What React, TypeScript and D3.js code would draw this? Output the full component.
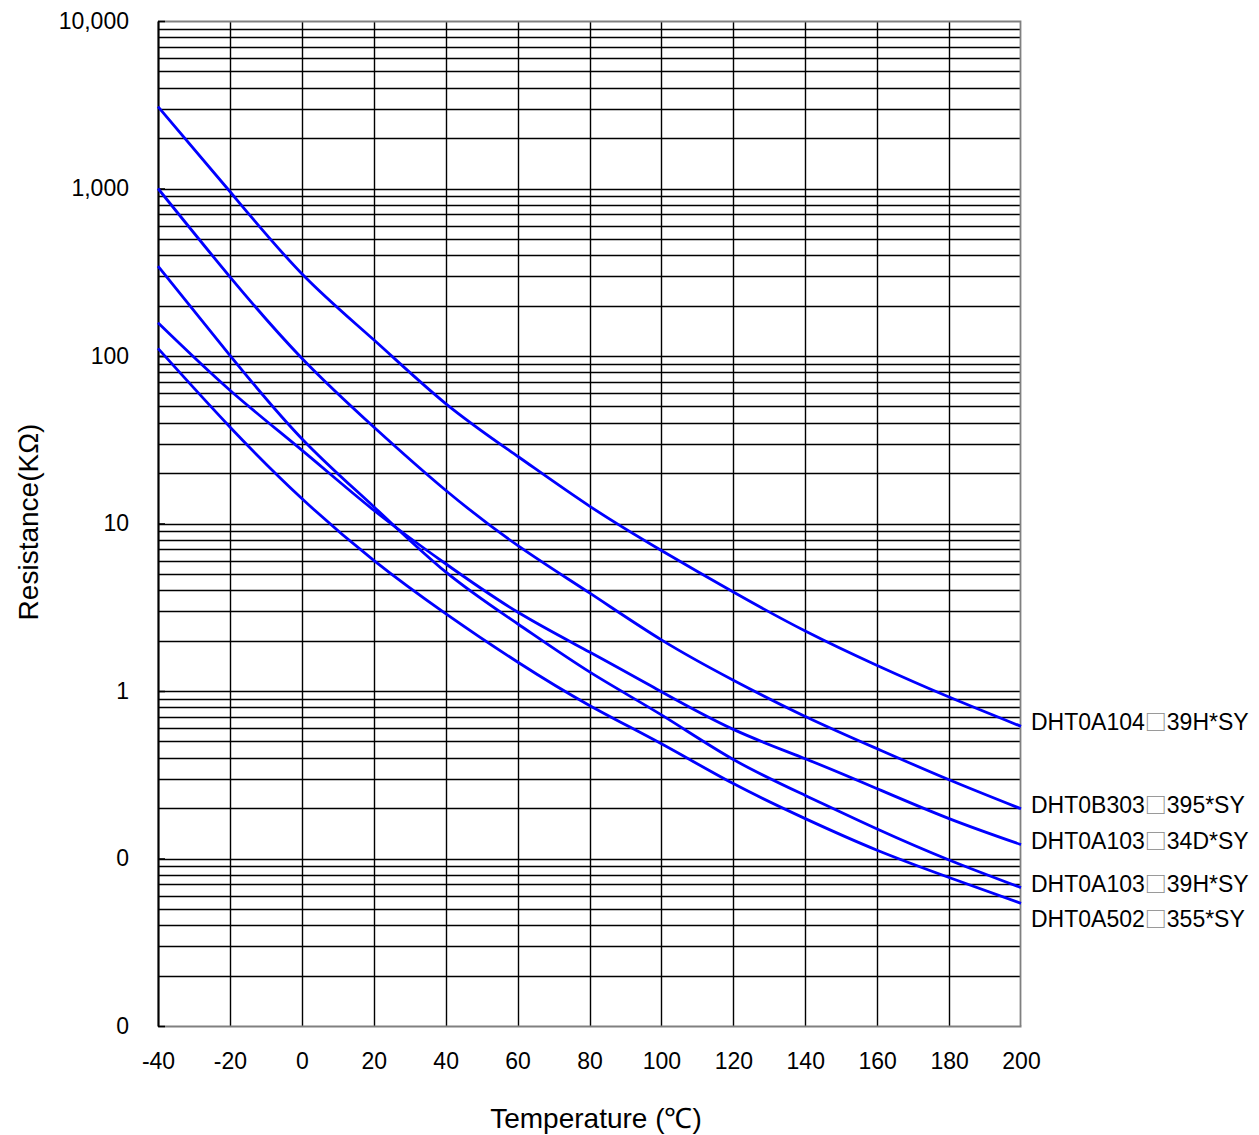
import React, { useEffect, useRef } from "react";
import * as d3 from "d3";

// temperature points (°C)
const temps = [-40, -20, 0, 20, 40, 60, 80, 100, 120, 140, 160, 180, 200];

// resistance in kOhm for each part, read at every 20 °C
const a104_39H = [3080, 960, 310, 125, 52, 25.2, 12.7, 6.9, 3.9, 2.28, 1.42, 0.92, 0.615];
const b303_395 = [1000, 297, 97, 37.7, 15.8, 7.4, 3.85, 2.02, 1.16, 0.705, 0.452, 0.295, 0.198];
const a103_34D = [158, 62.5, 27.4, 12.0, 5.75, 2.96, 1.71, 0.99, 0.59, 0.394, 0.261, 0.173, 0.121];
const a103_39H = [344, 101, 32.1, 12.6, 5.14, 2.52, 1.3, 0.72, 0.39, 0.238, 0.15, 0.098, 0.067];
const a502_355 = [111, 37.7, 14.1, 6.03, 2.9, 1.49, 0.82, 0.484, 0.28, 0.173, 0.112, 0.077, 0.054];

// part numbers, split around the box glyph
const namePrefix = ["DHT0A104", "DHT0B303", "DHT0A103", "DHT0A103", "DHT0A502"];
const nameSuffix = ["39H*SY", "395*SY", "34D*SY", "39H*SY", "355*SY"];
const seriesValues = [a104_39H, b303_395, a103_34D, a103_39H, a502_355];

// y tick labels (log decades)
const decades = [0.01, 0.1, 1, 10, 100, 1000, 10000];

const FONT = "Arial, 'Liberation Sans', sans-serif";

const App = () => {
  const ref = useRef(null);

  useEffect(() => {
    const width = 1259;
    const height = 1135;
    const marginTop = 21;
    const marginLeft = 158;
    const plotRight = 1021;
    const plotBottom = 1026;

    const x = d3.scaleLinear().domain([-40, 200]).range([marginLeft, plotRight]);
    const y = d3.scaleLog().domain([0.01, 10000]).range([plotBottom, marginTop]);

    const svg = d3
      .select(ref.current)
      .attr("width", width)
      .attr("height", height)
      .attr("viewBox", [0, 0, width, height])
      .style("font-family", FONT);

    svg.selectAll("*").remove();

    svg.append("rect").attr("width", width).attr("height", height).attr("fill", "#fff");

    // minor + major horizontal grid (1..9 in each decade)
    const gridVals = [];
    decades.slice(0, -1).forEach((d) => {
      for (let k = 1; k < 10; k++) gridVals.push(d * k);
    });
    svg
      .append("g")
      .selectAll("line")
      .data(gridVals.filter((v) => v > 0.01))
      .join("line")
      .attr("x1", marginLeft)
      .attr("x2", plotRight)
      .attr("y1", (d) => Math.round(y(d)) + 0.5)
      .attr("y2", (d) => Math.round(y(d)) + 0.5)
      .attr("stroke", "#000")
      .attr("stroke-width", 1.4);

    // vertical grid
    svg
      .append("g")
      .selectAll("line")
      .data(temps.slice(1, -1))
      .join("line")
      .attr("x1", (d) => Math.round(x(d)) + 0.5)
      .attr("x2", (d) => Math.round(x(d)) + 0.5)
      .attr("y1", marginTop)
      .attr("y2", plotBottom)
      .attr("stroke", "#000")
      .attr("stroke-width", 1.4);

    // top and right border (grey)
    svg
      .append("path")
      .attr("d", `M${marginLeft},${marginTop + 0.5}H${plotRight - 0.5}V${plotBottom}`)
      .attr("fill", "none")
      .attr("stroke", "#808080")
      .attr("stroke-width", 1.8);

    // x axis
    svg
      .append("g")
      .attr("transform", `translate(0,${plotBottom})`)
      .call(d3.axisBottom(x).tickValues(temps).tickSize(0).tickPadding(27).tickFormat((d) => String(d)))
      .call((g) => g.select(".domain").attr("stroke", "#808080").attr("stroke-width", 1.8))
      .call((g) => g.selectAll("text").attr("font-size", 23).attr("fill", "#000").attr("font-family", FONT));

    // y axis
    svg
      .append("g")
      .attr("transform", `translate(${marginLeft},0)`)
      .call(
        d3
          .axisLeft(y)
          .tickValues(decades)
          .tickSize(-7)
          .tickSizeOuter(0)
          .tickPadding(29)
          .tickFormat(d3.format(",.0f"))
      )
      .call((g) => g.select(".domain").attr("stroke", "#000").attr("stroke-width", 2.2))
      .call((g) => g.selectAll(".tick line").attr("stroke", "#000").attr("stroke-width", 1.6))
      .call((g) => g.selectAll("text").attr("font-size", 23).attr("fill", "#000").attr("font-family", FONT));

    // curves
    const line = d3
      .line()
      .x((_, i) => x(temps[i]))
      .y((d) => y(d))
      .curve(d3.curveNatural);

    svg
      .append("g")
      .selectAll("path")
      .data(seriesValues)
      .join("path")
      .attr("fill", "none")
      .attr("stroke", "#0000ff")
      .attr("stroke-width", 2.8)
      .attr("d", line);

    // labels at the right end, pushed apart so they don't overlap
    const order = seriesValues
      .map((v, i) => ({ i, yy: y(v[v.length - 1]) - 4 }))
      .sort((a, b) => a.yy - b.yy);
    for (let k = 1; k < order.length; k++) {
      if (order[k].yy - order[k - 1].yy < 35) order[k].yy = order[k - 1].yy + 35;
    }
    const labels = svg
      .append("g")
      .selectAll("text")
      .data(order)
      .join("text")
      .attr("x", plotRight + 10)
      .attr("y", (d) => d.yy)
      .attr("dy", "0.35em")
      .attr("font-size", 23)
      .attr("fill", "#000");
    labels.append("tspan").text((d) => namePrefix[d.i]);
    labels
      .append("tspan")
      .attr("font-family", "'Noto Sans CJK SC', 'DejaVu Sans', sans-serif")
      .attr("fill", "#888")
      .attr("font-size", 22)
      .text("□");
    labels.append("tspan").text((d) => nameSuffix[d.i]);

    // axis titles
    svg
      .append("text")
      .attr("x", 596)
      .attr("y", 1128)
      .attr("text-anchor", "middle")
      .attr("font-size", 28)
      .attr("fill", "#000")
      .text("Temperature (℃)");

    svg
      .append("text")
      .attr("transform", `translate(38,522) rotate(-90)`)
      .attr("text-anchor", "middle")
      .attr("font-size", 28)
      .attr("fill", "#000")
      .text("Resistance(KΩ)");
  }, []);

  return <svg ref={ref} style={{ position: "absolute", left: 0, top: 0, display: "block" }}></svg>;
};

export default App;
